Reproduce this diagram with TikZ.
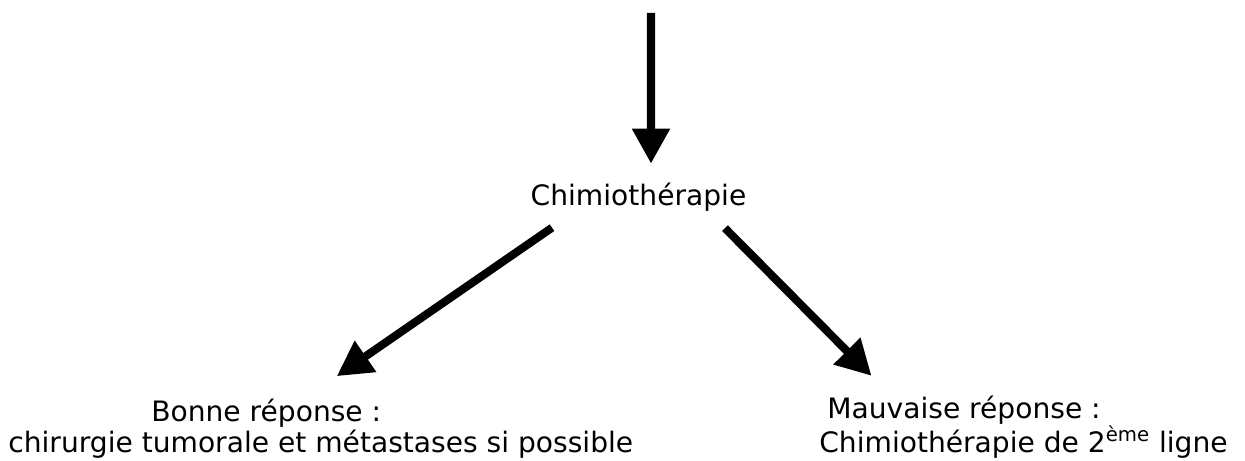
\documentclass[tikz,border=0pt]{standalone}
\usepackage{fontspec}
\setmainfont{DejaVu Sans}
\usetikzlibrary{arrows.meta}
\begin{document}
\begin{tikzpicture}[x=1cm,y=1cm,
  arr/.style={line width=4.6pt,-{Triangle[width=20.5pt,length=19.9pt]}},
  lbl/.style={font=\fontsize{16pt}{18.2pt}\selectfont,inner sep=0pt,align=left}]
\useasboundingbox (0,0) rectangle (24.9,-9.22);
\coordinate (top) at (13.02,-0.26);
\node[lbl,anchor=base] (chem) at (12.77,-4.12) {Chimiothérapie};
\node[lbl,anchor=base west] (bonne) at (0.16,-9.06) {\hspace*{2.86cm}Bonne réponse :\\chirurgie tumorale et métastases si possible};
\node[lbl,anchor=base west] (mauv) at (16.38,-9.06) {\hspace*{0.16cm}Mauvaise réponse :\\Chimiothérapie de 2\textsuperscript{ème} ligne};
\draw[arr] (top) -- ([xshift=0.25cm,yshift=0.39cm]chem.north);
\draw[arr] ([xshift=-1.73cm,yshift=-0.31cm]chem.south) -- ([xshift=0.32cm,yshift=0.44cm]bonne.north);
\draw[arr] ([xshift=1.73cm,yshift=-0.32cm]chem.south) -- ([xshift=-3.04cm,yshift=0.4cm]mauv.north);
\end{tikzpicture}
\end{document}
